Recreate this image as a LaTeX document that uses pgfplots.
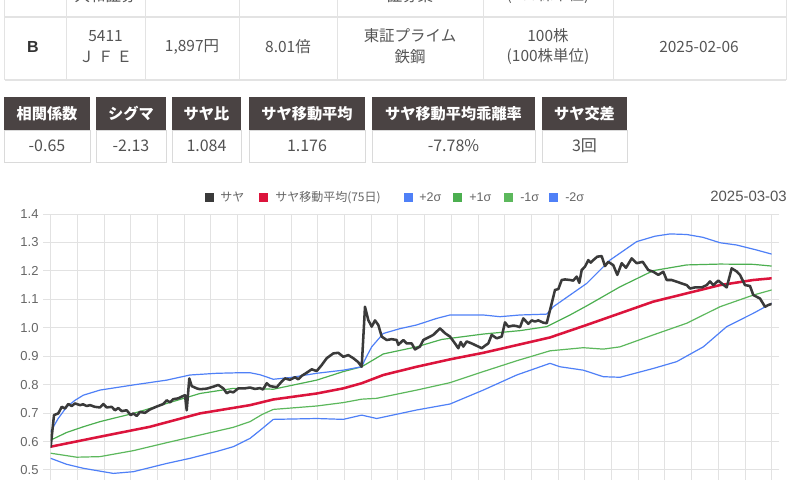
\documentclass[border=0pt]{standalone}
\usepackage{fontspec}
\usepackage{pgfplots}
\pgfplotsset{compat=1.18}
\setmainfont{Liberation Sans}
\newfontfamily\jp{Noto Sans CJK JP}
\definecolor{saya}{HTML}{3A3A3A}
\definecolor{mared}{HTML}{DC143C}
\definecolor{sblue}{HTML}{4F80F7}
\definecolor{sgreen}{HTML}{4CAF50}
\definecolor{sgreenb}{HTML}{5CB85C}
\definecolor{gridc}{HTML}{E2E2E2}
\definecolor{tickc}{HTML}{666666}
\definecolor{txt}{HTML}{555555}
\definecolor{hdr}{HTML}{4A4343}
\definecolor{tline}{HTML}{E3E3E3}
\definecolor{bline}{HTML}{DADADA}
\newcommand{\fs}[1]{\fontsize{#1}{#1}\selectfont}
\begin{document}
\begin{tikzpicture}
\useasboundingbox (0,0) rectangle (592.5pt,-360pt);
\begin{scope}
\clip (0,0) rectangle (592.5pt,-360pt);
\fill[white] (0,0) rectangle (592.5pt,-360pt);
\begin{scope}[x=0.75pt,y=-0.75pt]
% ---- stock table ----
\foreach \xx in {4.5,66,145,239,337,483,613,786}{\draw[tline,line width=0.75pt] (\xx,0) -- (\xx,80);}
\draw[tline,line width=1.6pt] (4.5,17) -- (786,17);
\draw[tline,line width=1.6pt] (4.5,80) -- (786,80);
\node[text=txt,font=\jp\fs{11.6pt}] at (105.5,-4.5) {大和証券};
\node[text=txt,font=\jp\fs{11.6pt}] at (410,-4.5) {証券業};
\node[text=txt,font=\jp\fs{11.6pt}] at (548,-4.5) {(100株単位)};
\node[text=black!80,font=\bfseries\fs{12pt}] at (33,47) {B};
\node[text=txt,font=\jp\fs{11.6pt}] at (105.5,36) {5411};
\node[text=txt,font=\jp\fs{11.6pt}] at (105.5,57) {Ｊ Ｆ Ｅ};
\node[text=txt,font=\jp\fs{11.6pt}] at (192,47) {1,897円};
\node[text=txt,font=\jp\fs{11.6pt}] at (288,47) {8.01倍};
\node[text=txt,font=\jp\fs{11.6pt}] at (410,36) {東証プライム};
\node[text=txt,font=\jp\fs{11.6pt}] at (410,57) {鉄鋼};
\node[text=txt,font=\jp\fs{11.6pt}] at (548,36) {100株};
\node[text=txt,font=\jp\fs{11.6pt}] at (548,57) {(100株単位)};
\node[text=txt,font=\jp\fs{11.6pt}] at (699,47) {2025-02-06};
% ---- stats boxes ----
\foreach \a/\b/\h/\v in {4/90/相関係数/-0.65, 96/166/シグマ/-2.13, 172/241/サヤ比/1.084, 249/365/サヤ移動平均/1.176, 372/535/サヤ移動平均乖離率/-7.78\%, 542/627/サヤ交差/3回}{
  \fill[hdr] (\a,97) rectangle (\b,130);
  \draw[bline,line width=0.75pt] (\a,130) rectangle (\b,162);
  \node[text=white,font=\jp\bfseries\fs{11.4pt}] at ({(\a+\b)/2},113.5) {\h};
  \node[text=black!68,font=\jp\fs{12pt}] at ({(\a+\b)/2},146) {\v};
}
% ---- legend ----
\fill[saya] (205,193) rectangle (214,202);
\node[anchor=west,inner sep=0,text=tickc,font=\jp\fs{9pt}] at (220,197.5) {サヤ};
\fill[mared] (259,193) rectangle (268,202);
\node[anchor=west,inner sep=0,text=tickc,font=\jp\fs{9pt}] at (275,197.5) {サヤ移動平均(75日)};
\fill[sblue] (404,193) rectangle (413,202);
\node[anchor=west,inner sep=0,text=tickc,font=\fs{9.4pt}] at (419,197.5) {+2σ};
\fill[sgreen] (453,193) rectangle (462,202);
\node[anchor=west,inner sep=0,text=tickc,font=\fs{9.4pt}] at (469,197.5) {+1σ};
\fill[sgreenb] (504,193) rectangle (513,202);
\node[anchor=west,inner sep=0,text=tickc,font=\fs{9.4pt}] at (520,197.5) {-1σ};
\fill[sblue] (549,193) rectangle (558,202);
\node[anchor=west,inner sep=0,text=tickc,font=\fs{9.4pt}] at (565,197.5) {-2σ};
\node[anchor=east,inner sep=0,text=txt,font=\fs{11.2pt}] at (787,196) {2025-03-03};
\end{scope}
% ---- chart ----
\begin{axis}[at={(38.025pt,-360pt)}, anchor=south west, scale only axis,
  width=540.75pt, height=199.5pt,
  xmin=50.7, xmax=771.7, ymin=0.4648, ymax=1.4,
  clip=true,
  axis line style={draw=none},
  xtick={50.7,77.4,104.1,130.8,157.5,184.2,210.9,237.7,264.4,291.1,317.8,344.5,371.2,397.9,424.6,451.3,478.0,504.7,531.4,558.1,584.8,611.5,638.2,664.9,691.6,718.3,745.0,771.7},
  xticklabels={},
  ytick={0.5,0.6,0.7,0.8,0.9,1.0,1.1,1.2,1.3,1.4},
  yticklabel style={font=\fs{9.75pt}, text=tickc},
  /pgf/number format/assume math mode=true,
  /pgf/number format/fixed, /pgf/number format/fixed zerofill, /pgf/number format/precision=1,
  grid=major, major grid style={draw=gridc, line width=0.75pt},
  tick align=outside, major tick length=5.6pt,
  xtick style={draw=none}, ytick style={draw=gridc, line width=0.75pt},
  every axis plot/.append style={line join=round, line cap=round},
]
% -2 sigma
\addplot[sblue, line width=0.9pt] coordinates {(50.7,0.541)(66.7,0.52)(83.3,0.506)(113.3,0.488)(133.3,0.494)(166.7,0.523)(190,0.541)(216.7,0.565)(233.3,0.582)(250,0.611)(262,0.645)(273.3,0.678)(316.7,0.681)(343.3,0.678)(361.7,0.693)(376.7,0.681)(416.7,0.711)(450,0.732)(483.3,0.781)(516.7,0.834)(550,0.875)(560,0.863)(583.3,0.851)(603.3,0.828)(620,0.826)(653.3,0.857)(676.7,0.881)(703.3,0.933)(726.7,1.004)(753.3,1.051)(771.7,1.086)};
% -1 sigma
\addplot[sgreenb, line width=0.9pt] coordinates {(50.7,0.559)(76.7,0.545)(100,0.547)(133.3,0.568)(166.7,0.596)(200,0.623)(233.3,0.650)(250,0.670)(262,0.695)(273.3,0.713)(316.7,0.725)(343.3,0.737)(361.7,0.749)(376.7,0.752)(416.7,0.781)(450,0.807)(483.3,0.846)(516.7,0.884)(550,0.919)(583.3,0.930)(603.3,0.925)(620,0.933)(653.3,0.975)(686.7,1.016)(720,1.074)(753.3,1.115)(771.7,1.133)};
% +1 sigma
\addplot[sgreen, line width=0.9pt] coordinates {(50.7,0.605)(66.7,0.632)(83.3,0.652)(100,0.670)(133.3,0.699)(166.7,0.734)(200,0.769)(233.3,0.787)(250,0.787)(273.3,0.784)(316.7,0.816)(343.3,0.846)(361.7,0.863)(383.3,0.908)(416.7,0.933)(441.7,0.959)(483.3,0.978)(520,0.990)(546.7,1.004)(570,1.045)(586.7,1.077)(620,1.144)(653.3,1.201)(686.7,1.221)(720,1.224)(753.3,1.223)(771.7,1.217)};
% +2 sigma
\addplot[sblue, line width=0.9pt] coordinates {(50.7,0.635)(58,0.68)(66.7,0.722)(75,0.745)(83.3,0.763)(100,0.781)(133.3,0.799)(166.7,0.816)(190,0.834)(216.7,0.840)(240,0.842)(250,0.842)(260,0.835)(273.3,0.819)(290,0.825)(316.7,0.840)(343.3,0.851)(361.7,0.863)(366,0.895)(371.7,0.933)(383.3,0.980)(400,0.997)(416.7,1.010)(436.7,1.033)(450,1.045)(483.3,1.045)(500,1.039)(520,1.045)(546.7,1.048)(553.3,1.074)(570,1.115)(586.7,1.156)(610,1.238)(636.7,1.303)(655,1.322)(670,1.330)(686.7,1.328)(703,1.318)(720,1.299)(736.7,1.291)(755,1.275)(771.7,1.259)};
% moving average
\addplot[mared, line width=1.9pt] coordinates {(50.7,0.582)(100,0.617)(150,0.652)(200,0.699)(250,0.728)(273.3,0.748)(316.7,0.769)(343.3,0.787)(361.7,0.805)(383.3,0.834)(416.7,0.863)(450,0.889)(483.3,0.912)(516.7,0.939)(550,0.966)(586.7,1.010)(620,1.051)(653.3,1.092)(686.7,1.121)(720,1.150)(753.3,1.168)(771.7,1.174)};
% saya
\addplot[saya, line width=1.9pt] coordinates {(50.7,0.582)(54,0.693)(58.3,0.699)(61.7,0.722)(65,0.716)(68.3,0.732)(71.7,0.725)(75,0.734)(80,0.728)(83,0.731)(86.7,0.725)(90,0.728)(95,0.722)(100,0.720)(103.3,0.732)(106.7,0.720)(111.7,0.722)(115,0.710)(118.3,0.718)(121.7,0.707)(126.7,0.710)(130.7,0.693)(133.3,0.699)(136.7,0.690)(140,0.704)(145,0.701)(150,0.713)(156.7,0.723)(163.3,0.732)(166.7,0.745)(170,0.738)(173.3,0.749)(178.3,0.752)(181.7,0.758)(185,0.763)(186.7,0.710)(189.3,0.822)(191.7,0.795)(196.7,0.787)(200,0.784)(206.7,0.786)(213.3,0.793)(218.3,0.799)(223.3,0.787)(226.7,0.770)(230,0.776)(233.3,0.773)(238.3,0.787)(245,0.787)(250,0.790)(255,0.785)(260,0.788)(263,0.783)(266.7,0.805)(270,0.795)(276.7,0.791)(281.7,0.811)(285,0.822)(290,0.817)(295,0.826)(298.3,0.819)(301.7,0.831)(306.7,0.842)(311.7,0.854)(316.7,0.848)(321.7,0.869)(326.7,0.893)(333.3,0.910)(338.3,0.912)(343.3,0.898)(348.3,0.904)(353.3,0.893)(358,0.880)(361.7,0.863)(365,1.074)(368.3,1.027)(371.7,1.004)(375,1.026)(378.3,1.010)(381.7,0.969)(386.7,0.957)(391.7,0.960)(396.7,0.957)(398.3,0.940)(403.3,0.957)(406.7,0.945)(411.7,0.945)(415,0.924)(420,0.934)(423.3,0.957)(426.7,0.963)(433.3,0.975)(440,0.998)(445,0.981)(450,0.969)(455,0.945)(458.3,0.928)(460.7,0.950)(463.3,0.934)(466.7,0.952)(471.7,0.945)(478.3,0.934)(481.7,0.928)(485,0.937)(488.3,0.945)(491.7,0.975)(496.7,0.963)(501.7,0.969)(505,1.019)(508.3,1.004)(513.3,1.008)(516.7,1.006)(520,1.002)(523.3,1.033)(528.3,1.014)(531.7,1.026)(535,1.022)(538.3,1.026)(543.3,1.018)(546.7,1.016)(550,1.062)(555,1.133)(558.3,1.136)(561.7,1.168)(565,1.170)(570,1.168)(573.3,1.166)(576.7,1.180)(579.3,1.158)(581.7,1.203)(585,1.215)(588.3,1.238)(590.7,1.229)(593.3,1.238)(597.3,1.250)(601.7,1.252)(605,1.217)(608.3,1.232)(613.3,1.220)(617.3,1.186)(621.7,1.227)(626,1.211)(631.7,1.244)(636.7,1.227)(642.7,1.232)(648.3,1.203)(653.3,1.197)(658.3,1.186)(663.3,1.197)(666.7,1.168)(671.7,1.168)(676.7,1.162)(681.7,1.156)(686.7,1.150)(690,1.138)(695,1.142)(701.7,1.142)(706.7,1.150)(710,1.163)(713.3,1.150)(718.3,1.166)(721.7,1.156)(726.7,1.142)(731.7,1.209)(736.7,1.198)(740,1.186)(745,1.150)(750,1.147)(753.3,1.115)(760,1.103)(765,1.074)(768.3,1.080)(771.7,1.084)};
\end{axis}
\end{scope}
\end{tikzpicture}
\end{document}
